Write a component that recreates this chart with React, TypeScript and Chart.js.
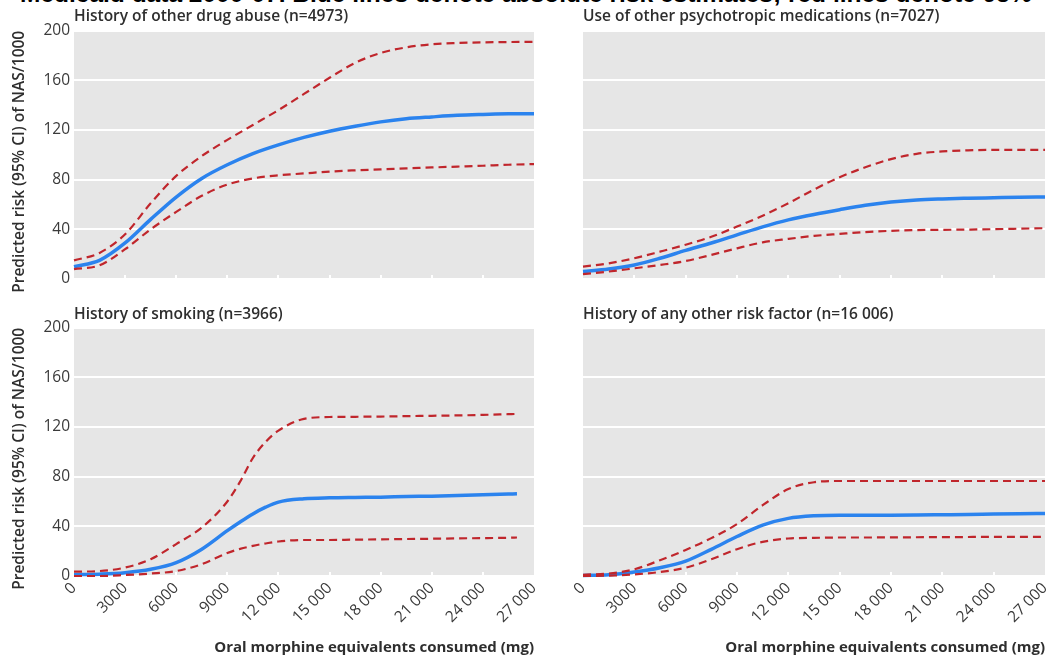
import React, { useEffect, useRef } from 'react';
import { Chart, registerables } from 'chart.js';

Chart.register(...registerables);

// ---------- data ----------
const headerText = 'Medicaid data 2000-07. Blue lines denote absolute risk estimates; red lines denote 95%';
const yAxisTitle = 'Predicted risk (95% CI) of NAS/1000';
const xAxisTitle = 'Oral morphine equivalents consumed (mg)';
const panelTitles = [
  'History of other drug abuse (n=4973)',
  'Use of other psychotropic medications (n=7027)',
  'History of smoking (n=3966)',
  'History of any other risk factor (n=16 006)',
];

const xTickValues = [0, 3000, 6000, 9000, 12000, 15000, 18000, 21000, 24000, 27000];
const xTickLabels = ['0', '3000', '6000', '9000', '12 000', '15 000', '18 000', '21 000', '24 000', '27 000'];
const yTickValues = [0, 40, 80, 120, 160, 200];

const xValues = [0, 1500, 3000, 4500, 6000, 7500, 9000, 10500, 12000, 13500, 15000, 16500, 18000, 19500, 21000, 22500, 24000, 25500, 27000];
const smokeX = [0, 1500, 3000, 4500, 6000, 7500, 9000, 9750, 10500, 11250, 12000, 13500, 15000, 16500, 18000, 19500, 21000, 22500, 24000, 25500, 26000];

const drugBlue = [10, 15, 29, 48, 66, 81, 92, 101, 108, 114, 119, 123, 126.5, 129, 130.5, 131.8, 132.5, 133, 133];
const drugUpper = [15, 21, 36, 61, 83, 99, 112, 124, 136, 149, 162, 174, 182, 186.5, 189, 190, 190.5, 190.8, 191];
const drugLower = [8, 11, 24, 40, 54, 67, 76, 81, 83.5, 85, 86.5, 87.5, 88.3, 89, 89.8, 90.5, 91.2, 92, 92.5];

const psychBlue = [6, 8, 11.3, 16.7, 23, 29, 35.5, 42, 47.6, 52, 55.8, 59.3, 62, 63.7, 64.5, 65, 65.4, 65.8, 66.1];
const psychUpper = [10, 12.6, 16.7, 22, 27.6, 34, 42.2, 51, 61, 72, 82, 90, 96.5, 100.8, 102.7, 103.6, 104, 104, 104];
const psychLower = [4, 6, 8.6, 11.3, 14.5, 19.4, 24.7, 29.5, 32.3, 34.7, 36.3, 37.8, 38.8, 39.4, 39.6, 39.8, 40.1, 40.5, 40.9];

const smokeBlue = [1, 1.5, 2.7, 5.4, 10.8, 21.6, 36.5, 43.5, 50, 55.4, 59.5, 62.2, 63, 63.3, 63.5, 64, 64.3, 64.8, 65.4, 66, 66.2];
const smokeUpper = [3.5, 4, 6.8, 13.5, 25.7, 39, 60, 76, 95, 108, 117, 126.5, 128, 128.2, 128.4, 128.7, 129, 129.3, 129.7, 130.3, 130.5];
const smokeLower = [0, 0, 0.8, 2, 4, 9.5, 18.5, 21.8, 24.3, 26.2, 27.8, 29, 29, 29.3, 29.5, 29.8, 30, 30.3, 30.5, 30.8, 31];

const riskBlue = [0.5, 1, 3.2, 6.7, 12, 21.5, 31.8, 41, 46.4, 48.5, 49, 49, 49, 49.1, 49.3, 49.5, 49.9, 50.2, 50.4];
const riskUpper = [1, 2, 5.4, 12.7, 21, 30.5, 41.8, 57, 70, 75.5, 76.5, 76.5, 76.5, 76.5, 76.5, 76.5, 76.5, 76.5, 76.5];
const riskLower = [0, 0.3, 1.3, 3.2, 6.7, 13.5, 21.6, 27.5, 30.2, 30.7, 31, 31, 31.1, 31.2, 31.3, 31.4, 31.5, 31.5, 31.5];

// ---------- styles ----------
const FONT = "'Open Sans', sans-serif";
const BLUE = '#2b83ee';
const RED = '#c0262c';
const PLOT_BG = '#e6e6e6';
const TEXT = '#2e2e2e';

const plotBg = {
  id: 'plotBg',
  beforeDraw(chart: any) {
    const { ctx, chartArea } = chart;
    const { left, top, right, bottom } = chartArea;
    ctx.save();
    ctx.fillStyle = PLOT_BG;
    ctx.fillRect(left, top, right - left, bottom - top);
    ctx.restore();
  },
  beforeDatasetsDraw(chart: any) {
    const { ctx, chartArea, scales } = chart;
    ctx.save();
    ctx.strokeStyle = '#ffffff';
    ctx.lineWidth = 2;
    xTickValues.slice(1, -1).forEach((v) => {
      const x = Math.round(scales.x.getPixelForValue(v));
      ctx.beginPath();
      ctx.moveTo(x, chartArea.bottom);
      ctx.lineTo(x, chartArea.bottom - 4);
      ctx.stroke();
    });
    ctx.restore();
  },
  afterDraw(chart: any) {
    const opts = chart.options.plugins.plotBg || {};
    if (!opts.yTitle) return;
    const { ctx, chartArea } = chart;
    ctx.save();
    ctx.translate(20, (chartArea.top + chartArea.bottom) / 2 + 7);
    ctx.rotate(-Math.PI / 2);
    ctx.textAlign = 'center';
    ctx.textBaseline = 'middle';
    ctx.fillStyle = TEXT;
    ctx.font = `600 15.5px ${FONT}`;
    ctx.fillText(opts.yTitle, 0, 0);
    ctx.restore();
  },
};

type PanelSpec = {
  left: number; top: number; width: number; height: number;
  plotLeft: number; plotRight: number; plotTop: number; plotBottom: number;
  titlePad: { top: number; bottom: number };
  showY: boolean; showX: boolean; title: string;
  xs: number[]; blue: number[]; upper: number[]; lower: number[];
};

const panels: PanelSpec[] = [
  { left: 0, top: 0, width: 540, height: 300, plotLeft: 74, plotRight: 534, plotTop: 31, plotBottom: 279,
    titlePad: { top: 7, bottom: 5 }, showY: true, showX: false, title: panelTitles[0],
    xs: xValues, blue: drugBlue, upper: drugUpper, lower: drugLower },
  { left: 540, top: 0, width: 511, height: 300, plotLeft: 583, plotRight: 1045, plotTop: 31, plotBottom: 279,
    titlePad: { top: 7, bottom: 5 }, showY: false, showX: false, title: panelTitles[1],
    xs: xValues, blue: psychBlue, upper: psychUpper, lower: psychLower },
  { left: 0, top: 300, width: 540, height: 359, plotLeft: 74, plotRight: 534, plotTop: 328, plotBottom: 576,
    titlePad: { top: 5, bottom: 4 }, showY: true, showX: true, title: panelTitles[2],
    xs: smokeX, blue: smokeBlue, upper: smokeUpper, lower: smokeLower },
  { left: 540, top: 300, width: 511, height: 359, plotLeft: 583, plotRight: 1045, plotTop: 328, plotBottom: 576,
    titlePad: { top: 5, bottom: 4 }, showY: false, showX: true, title: panelTitles[3],
    xs: xValues, blue: riskBlue, upper: riskUpper, lower: riskLower },
];

function Panel({ spec }: { spec: PanelSpec }) {
  const ref = useRef<HTMLCanvasElement>(null);
  useEffect(() => {
    const s = spec;
    const yWidth = s.plotLeft - s.left;
    const rightPad = s.left + s.width - s.plotRight;
    const xHeight = s.showX ? s.top + s.height - s.plotBottom : 0;
    const bottomPad = s.showX ? 0 : s.top + s.height - s.plotBottom;
    const pts = (ys: number[]) => s.xs.map((x, i) => ({ x, y: ys[i] }));
    const dashed = (ys: number[]) => ({
      data: pts(ys), borderColor: RED, borderWidth: 2.2, borderDash: [8, 5], pointRadius: 0,
      cubicInterpolationMode: 'monotone' as const, fill: false, clip: 6,
    });
    const chart = new Chart(ref.current!, {
      type: 'line',
      data: {
        datasets: [
          dashed(s.upper),
          dashed(s.lower),
          { data: pts(s.blue), borderColor: BLUE, borderWidth: 3.5, pointRadius: 0,
            cubicInterpolationMode: 'monotone', fill: false, clip: 6 },
        ],
      },
      options: {
        animation: false,
        responsive: false,
        layout: { padding: { left: 0, top: 0, right: rightPad, bottom: bottomPad } },
        plugins: {
          legend: { display: false },
          tooltip: { enabled: false },
          plotBg: { yTitle: s.showY ? yAxisTitle : '' },
          title: {
            display: true, text: s.title, align: 'start', fullSize: false,
            color: TEXT, font: { family: FONT, size: 15.5, weight: '600', lineHeight: 1.2 },
            padding: s.titlePad,
          },
        },
        scales: {
          x: {
            type: 'linear', min: 0, max: 27000,
            afterBuildTicks: (sc: any) => { sc.ticks = xTickValues.map((v) => ({ value: v })); },
            afterFit: (sc: any) => { sc.height = xHeight; sc.paddingLeft = 0; sc.paddingRight = 0; },
            ticks: {
              display: s.showX, autoSkip: false, minRotation: 45, maxRotation: 45, padding: 3,
              color: '#3a3a3a', font: { family: FONT, size: 15.5 },
              callback: (_v: any, i: number) => xTickLabels[i],
            },
            grid: { display: false, drawTicks: false },
            border: { display: false },
            title: {
              display: s.showX, text: xAxisTitle, align: 'end', color: TEXT,
              font: { family: FONT, size: 15, weight: 'bold' }, padding: { top: 0, bottom: 2.5 },
            },
          },
          y: {
            min: 0, max: 200,
            afterBuildTicks: (sc: any) => { sc.ticks = yTickValues.map((v) => ({ value: v })); },
            afterFit: (sc: any) => { sc.width = yWidth; sc.paddingTop = 0; sc.paddingBottom = 0; },
            ticks: { display: s.showY, padding: 4, color: '#3a3a3a', font: { family: FONT, size: 15.5 } },
            grid: { color: '#ffffff', lineWidth: 2, drawTicks: false },
            border: { display: false },
            title: { display: false },
          },
        },
      },
      plugins: [plotBg],
    } as any);
    return () => chart.destroy();
  }, [spec]);
  return (
    <canvas
      ref={ref}
      width={spec.width}
      height={spec.height}
      style={{ position: 'absolute', left: spec.left, top: spec.top, width: spec.width, height: spec.height }}
    />
  );
}

export default function App() {
  return (
    <div style={{ position: 'absolute', left: 0, top: 0, width: 1051, height: 659, overflow: 'hidden', background: '#fff' }}>
      <div
        style={{
          position: 'absolute', left: 20, top: -18, whiteSpace: 'nowrap',
          fontFamily: "'Liberation Sans', Arial, sans-serif", fontWeight: 'bold', fontSize: 24.5,
          lineHeight: 1, color: '#000',
        }}
      >
        {headerText}
      </div>
      {panels.map((p, i) => (
        <Panel key={i} spec={p} />
      ))}
    </div>
  );
}
